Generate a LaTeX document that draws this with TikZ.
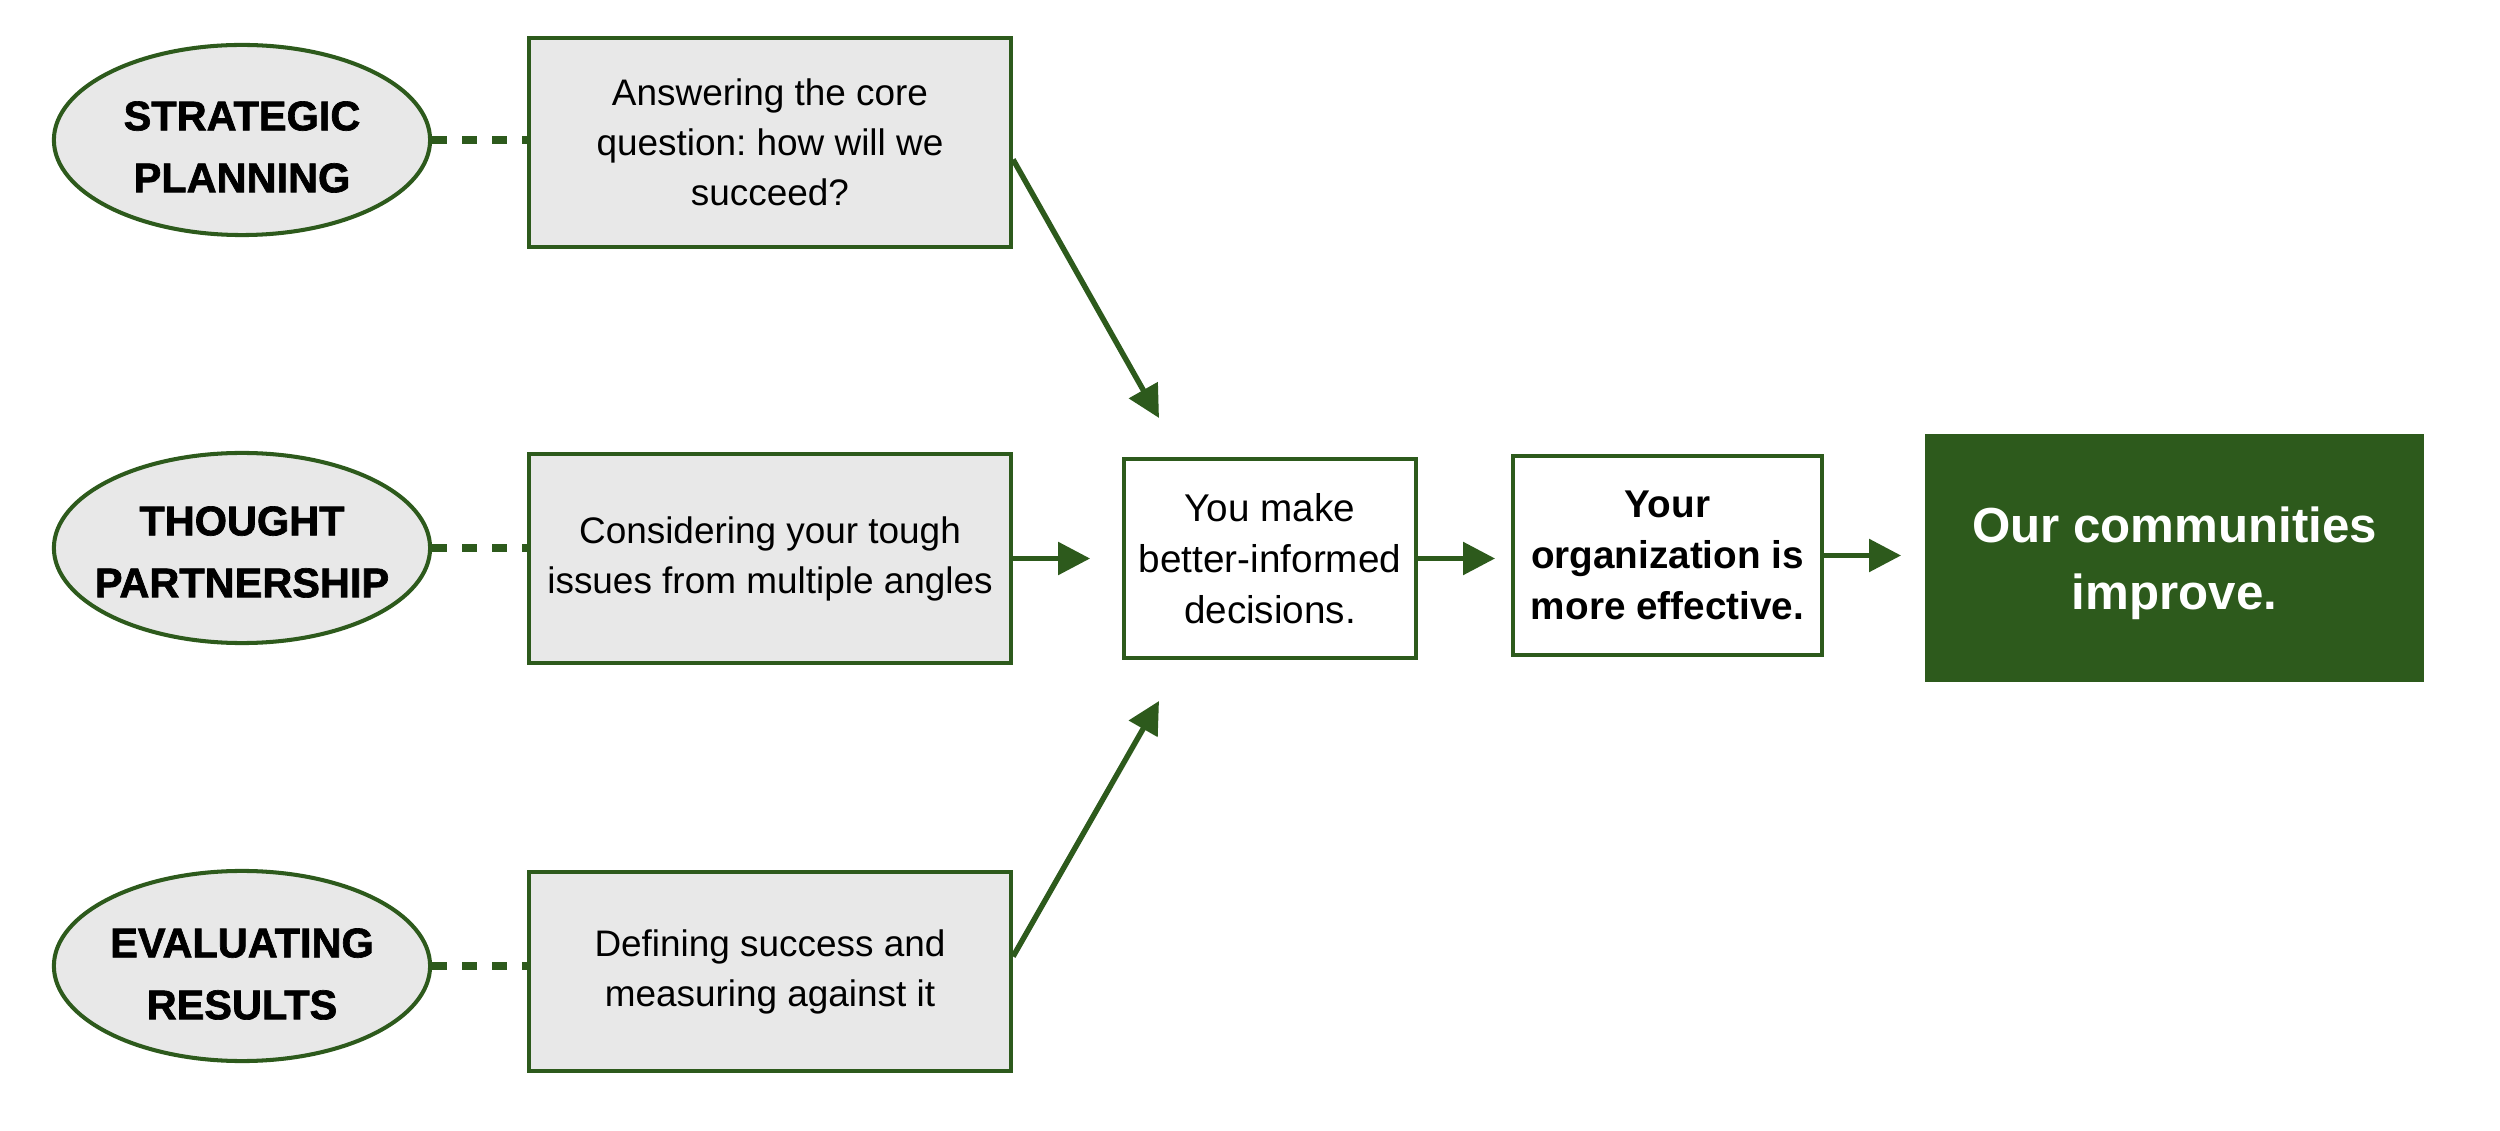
\documentclass[tikz,border=0pt]{standalone}
\usepackage{fontspec}
\setmainfont{Liberation Sans}
\newfontfamily\heavyfont{Liberation Sans}[BoldFeatures={FakeBold=1.6}]
\frenchspacing
\usetikzlibrary{arrows.meta,shapes.geometric,calc}
\definecolor{dkgreen}{RGB}{45,90,28}
\definecolor{lgray}{RGB}{232,232,232}
\begin{document}
\begin{tikzpicture}[x=0.01cm,y=-0.01cm,
  oval/.style={ellipse,draw=dkgreen,fill=lgray,line width=1.15pt,minimum width=3.76cm,minimum height=1.9cm,inner sep=0pt},
  ovaltext/.style={inner sep=0pt,align=center,font=\fontsize{11.8}{17.6}\selectfont\heavyfont\bfseries},
  graybox/.style={rectangle,draw=dkgreen,fill=lgray,line width=1.1pt,minimum width=4.82cm,inner sep=0pt,align=center,font=\fontsize{10.5}{14.2}\selectfont},
  whitebox/.style={rectangle,draw=dkgreen,fill=white,line width=1.1pt,inner sep=0pt,align=center,minimum height=1.99cm},
  greenbox/.style={rectangle,draw=dkgreen,fill=dkgreen,inner sep=0pt},
  greentext/.style={inner sep=0pt,align=center,text=white,font=\fontsize{14}{19}\selectfont\bfseries},
  link/.style={draw=dkgreen,line width=2pt,dash pattern=on 0.15cm off 0.15cm},
  arr/.style={draw=dkgreen,line width=1.55pt,-{Triangle[length=0.32cm,width=0.32cm]}}
]
\useasboundingbox (0,0) rectangle (2500,1131);
% ellipses
\node[oval] (e1) at (242,140) {};
\node[oval] (e2) at (242,548) {};
\node[oval] (e3) at (242,966) {};
\node[ovaltext] (e1t) at ([yshift=-0.07cm]e1.center) {STRATEGIC\\PLANNING};
\node[ovaltext] (e2t) at ([yshift=-0.04cm]e2.center) {THOUGHT\\PARTNERSHIP};
\node[ovaltext] (e3t) at ([yshift=-0.08cm]e3.center) {EVALUATING\\RESULTS};
% gray boxes
\node[graybox,minimum height=2.09cm] (b1) at (770,142.5) {Answering the core\\question: how will we\\succeed?};
\node[graybox,minimum height=2.09cm] (b2) at (770,558.5) {Considering your tough\\issues from multiple angles};
\node[graybox,minimum height=1.99cm] (b3) at (770,971.5) {Defining success and\\measuring against it};
% white boxes
\node[whitebox,minimum width=2.92cm,font=\fontsize{11}{14.5}\selectfont] (b4) at (1270,558.5) {You make\\better-informed\\decisions.};
\node[whitebox,minimum width=3.09cm,font=\fontsize{11}{14.5}\selectfont\bfseries] (b5) at (1667.5,555.5) {Your\\organization is\\more effective.};
\node[greenbox,minimum width=4.97cm,minimum height=2.46cm] (b6) at (2174.5,558) {};
\node[greentext] (b6t) at ([yshift=-0.05cm]b6.center) {Our communities\\improve.};
% dashed links
\draw[link] (e1.east) -- (e1.east -| b1.west);
\draw[link] (e2.east) -- (e2.east -| b2.west);
\draw[link] (e3.east) -- (e3.east -| b3.west);
% arrows
\coordinate (t1) at (1159,418);
\coordinate (t3) at (1159,701);
\draw[arr] ([yshift=-0.17cm]b1.east) -- (t1);
\draw[arr] ([yshift=0.15cm]b3.east) -- (t3);
\draw[arr] (b2.east) -- ([xshift=0.77cm]b2.east);
\draw[arr] (b4.east) -- ([xshift=0.77cm]b4.east);
\draw[arr] (b5.east) -- ([xshift=0.77cm]b5.east);
\end{tikzpicture}
\end{document}
